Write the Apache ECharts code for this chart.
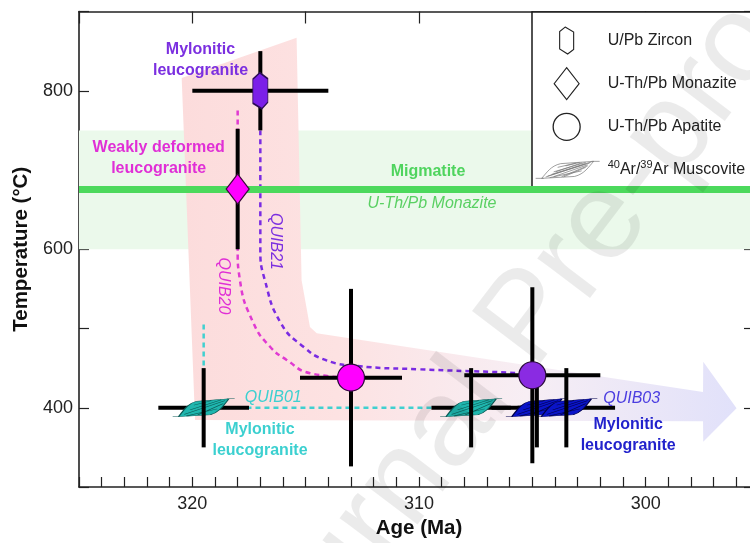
<!DOCTYPE html>
<html>
<head>
<meta charset="utf-8">
<script src="https://cdn.jsdelivr.net/npm/echarts@6/dist/echarts.min.js"></script>
<style>
  html, body { margin: 0; padding: 0; background: #fff; }
  #chart { width: 750px; height: 543px; }
</style>
</head>
<body>
<div id="chart"></div>
<script>
// ---- Geochronology / thermometry data: [age (Ma), age error, temperature (°C), temperature error]
const zirconQUIB21 = [[317.0, 3.0, 800, 50]];
const monaziteQUIB20 = [[318.0, 4.0, 676, 76]];
const apatiteSamples = ['QUIB20', 'QUIB21'];
const apatite = [[313.0, 2.25, 438, 112], [305.0, 3.0, 441, 111]];
const muscoviteSamples = ['QUIB01', 'QUIB01', 'QUIB03', 'QUIB03'];
const muscovite = [[319.5, 2.0, 400, 50], [307.7, 1.75, 400, 50], [304.8, 2.0, 400, 50], [303.5, 2.15, 400, 50]];

// Migmatite U-Th/Pb monazite temperature window and mean
const migmatiteRange = [600, 750];
const migmatiteTemp = 676;

// Cooling paths per sample: [age, temperature]
const pathQUIB21 = [[317.0, 750], [317.0, 600], [316.8, 561], [316.1, 507], [315.1, 477], [314.1, 460], [312.75, 452.7], [310.0, 448.5], [305.5, 443.5], [305.0, 441]];
const pathQUIB20 = [[318.0, 775], [318.0, 600], [317.9, 561], [317.3, 506.6], [316.57, 477], [315.84, 460.3], [314.8, 443.5], [313.0, 438]];
const pathQUIB01 = [[319.5, 505], [319.5, 400], [307.7, 400]];

// Cooling envelope (shaded arrow): [age, temperature]
const envelope = [
  [320.47, 816], [315.4, 867], [315.18, 561], [314.81, 502], [314.51, 494],
  [297.47, 420], [297.46, 458], [295.99, 399.3], [297.46, 357.2], [297.47, 383],
  [319.88, 384.7]
];

// Axes
const ageRange = [295, 325];
const tempRange = [300, 900];
const ageLabels = [320, 310, 300];
const tempLabels = [400, 600, 800];

const FONT = '"Liberation Sans", Arial, sans-serif';
const sampleColor = { QUIB21: '#8a2be2', QUIB20: '#ff00ff' };
const micaFill = { QUIB01: '#1fb6ae', QUIB03: '#0a14c8' };
const micaLine = { QUIB01: '#0c5a56', QUIB03: '#00004a' };

// Symbol outlines
const ZIRCON = 'path://M7,0L15,6L15,29.5L9,36L0,30.5L0,6.5Z';
// muscovite flake: tails, body and cleavage lines (64 x 18 frame)
const MUSCO_BODY = 'M0,17.5L8,17.5M6,17.5C11,12 15,5 25,2.8L58,0.5C53,6 49,13 39,15.6L6,17.5ZM56,0.5L64,0.5';
const MUSCO_LINES = 'M12,15.2L54,2.2M18,11L50,1.6M14,16.8L46,10M26,15.8L52,5M22,6.5L40,2.3';
const MUSCO_HATCH = 'M10,16.2L50,2.8M18,15.8L52,4M20,11L46,2M28,16L50,6.5M30,5L44,1.6M16,13.5L56,1';
function shiftPath(str, dx, dy) {
  return str.replace(/(-?\d+\.?\d*),(-?\d+\.?\d*)/g, (m, x, y) => (parseFloat(x) + dx) + ',' + (parseFloat(y) + dy));
}
const MUSCOVITE = 'path://' + MUSCO_BODY + MUSCO_LINES;
// legend icons drawn inside a 68 x 36 frame
const FRAME = 'M0,0M68,36';
const LEG_ZIRCON = 'path://' + FRAME + 'M30.5,4.5L39,9.5L39,27L33,31.5L25,26.5L25,9Z';
const LEG_DIAMOND = 'path://' + FRAME + 'M32,2L44.5,18L32,34L19.5,18Z';
const LEG_CIRCLE = 'path://' + FRAME + 'M45.5,18A13.5,13.5,0,1,1,18.5,18A13.5,13.5,0,1,1,45.5,18Z';
const LEG_MUSCO = 'path://' + FRAME + shiftPath(MUSCO_BODY + MUSCO_LINES + MUSCO_HATCH, 1, 9);

const allPoints = [...zirconQUIB21, ...monaziteQUIB20, ...apatite, ...muscovite];

function hBar(params, api) {
  const a = api.value(0), ea = api.value(1), t = api.value(2);
  const p1 = api.coord([a - ea, t]), p2 = api.coord([a + ea, t]);
  return { type: 'line', shape: { x1: p1[0], y1: p1[1], x2: p2[0], y2: p2[1] },
           style: { stroke: '#000', lineWidth: 4 } };
}
function vBar(params, api) {
  const a = api.value(0), t = api.value(2), et = api.value(3);
  const p1 = api.coord([a, t - et]), p2 = api.coord([a, t + et]);
  return { type: 'line', shape: { x1: p1[0], y1: p1[1], x2: p2[0], y2: p2[1] },
           style: { stroke: '#000', lineWidth: 4 } };
}

function note(x, y, text, color, opt) {
  opt = opt || {};
  return {
    type: 'text', x: x, y: y, rotation: opt.rotation || 0, z: 100, silent: true,
    style: {
      text: text, fill: color, fontFamily: FONT, fontSize: 16,
      fontWeight: opt.bold ? 'bold' : 'normal', fontStyle: opt.italic ? 'italic' : 'normal',
      align: 'center', verticalAlign: 'middle', lineHeight: 21
    }
  };
}

const chart = echarts.init(document.getElementById('chart'), null, { renderer: 'canvas' });
chart.setOption({
  animation: false,
  backgroundColor: '#fff',
  // plot frame runs a little past the right edge of the page
  grid: { left: 79, top: 11.5, width: 680, height: 475.5, containLabel: false, outerBoundsMode: 'none' },
  xAxis: [{
    type: 'value', min: ageRange[0], max: ageRange[1], interval: 1, inverse: true,
    name: 'Age (Ma)', nameLocation: 'middle', nameGap: 28,
    nameTextStyle: { fontFamily: FONT, fontSize: 20.5, fontWeight: 'bold', color: '#111' },
    axisLine: { lineStyle: { color: '#222', width: 1.6 } },
    axisTick: { inside: true, length: 10, lineStyle: { color: '#222', width: 1.2 } },
    axisLabel: { interval: 0, margin: 8, fontFamily: FONT, fontSize: 18, color: '#222',
                 formatter: v => ageLabels.includes(v) ? String(v) : '' },
    splitLine: { show: false }
  }, {
    type: 'value', position: 'top', min: ageRange[0], max: ageRange[1], interval: 5, inverse: true,
    axisLine: { lineStyle: { color: '#222', width: 1.6 } },
    axisTick: { inside: true, length: 12, lineStyle: { color: '#222', width: 1.2 } },
    axisLabel: { show: false }, splitLine: { show: false }
  }],
  yAxis: [{
    type: 'value', min: tempRange[0], max: tempRange[1], interval: 100,
    name: 'Temperature (°C)', nameLocation: 'middle', nameGap: 46,
    nameTextStyle: { fontFamily: FONT, fontSize: 20.5, fontWeight: 'bold', color: '#111' },
    axisLine: { show: true, lineStyle: { color: '#222', width: 1.6 } },
    axisTick: { show: true, inside: true, length: 10, lineStyle: { color: '#222', width: 1.2 } },
    axisLabel: { margin: 6, fontFamily: FONT, fontSize: 18, color: '#222',
                 formatter: v => tempLabels.includes(v) ? String(v) : '' },
    splitLine: { show: false }
  }, {
    type: 'value', position: 'right', min: tempRange[0], max: tempRange[1], interval: 100,
    axisLine: { show: true, lineStyle: { color: '#222', width: 1.6 } },
    axisTick: { show: true, inside: true, length: 15, lineStyle: { color: '#222', width: 1.2 } },
    axisLabel: { show: false }, splitLine: { show: false }
  }],
  legend: {
    orient: 'vertical', left: 532, top: 12, padding: [10, 12, 2, 2],
    itemGap: 6, itemWidth: 68, itemHeight: 36, selectedMode: false,
    backgroundColor: '#fff', borderColor: '#1a1a1a', borderWidth: 1.5,
    textStyle: {
      fontFamily: FONT, fontSize: 16, color: '#222',
      rich: {
        sup: { fontFamily: FONT, fontSize: 11, color: '#222', verticalAlign: 'top', lineHeight: 20 },
        t: { fontFamily: FONT, fontSize: 16, color: '#222', lineHeight: 20 }
      }
    },
    formatter: name => name === '40Ar/39Ar Muscovite' ? '{sup|40}{t|Ar/}{sup|39}{t|Ar Muscovite}' : name,
    data: [
      { name: 'U/Pb Zircon', icon: LEG_ZIRCON, itemStyle: { color: '#fff', borderColor: '#222', borderWidth: 1.1 } },
      { name: 'U-Th/Pb Monazite', icon: LEG_DIAMOND, itemStyle: { color: '#fff', borderColor: '#222', borderWidth: 1.1 } },
      { name: 'U-Th/Pb Apatite', icon: LEG_CIRCLE, itemStyle: { color: '#fff', borderColor: '#222', borderWidth: 1.3 } },
      { name: '40Ar/39Ar Muscovite', icon: LEG_MUSCO, itemStyle: { color: '#fff', borderColor: '#777', borderWidth: 0.7 } }
    ]
  },
  graphic: [
    note(200.5, 60.5, 'Mylonitic\nleucogranite', '#7b2fe0', { bold: true }),
    note(158.7, 158.5, 'Weakly deformed\nleucogranite', '#e02fd6', { bold: true }),
    note(275.5, 241.5, 'QUIB21', '#7b2fe0', { italic: true, rotation: -Math.PI / 2 }),
    note(223, 286, 'QUIB20', '#e02fd6', { italic: true, rotation: -Math.PI / 2 }),
    note(273.3, 397.7, 'QUIB01', '#3cd0d0', { italic: true }),
    note(260, 439.6, 'Mylonitic\nleucogranite', '#3cd0d0', { bold: true }),
    note(631.7, 398.3, 'QUIB03', '#4b3de0', { italic: true }),
    note(628.2, 435, 'Mylonitic\nleucogranite', '#2222cc', { bold: true }),
    note(428, 172, 'Migmatite', '#4fd45e', { bold: true }),
    note(432, 203.5, 'U-Th/Pb Monazite', '#5ad063', { italic: true }),
    {
      type: 'text', x: 530, y: 320, rotation: 0.92, z: 200, silent: true,
      style: { text: 'Journal Pre-proof', fill: 'rgba(0,0,0,0.08)', fontFamily: FONT,
               fontSize: 125, align: 'center', verticalAlign: 'middle' }
    }
  ],
  series: [
    {
      name: 'Migmatite', type: 'line', data: [], z: 1, silent: true,
      markArea: { silent: true, itemStyle: { color: '#ebf9eb' },
                  data: [[{ yAxis: migmatiteRange[0] }, { yAxis: migmatiteRange[1] }]] },
      markLine: { silent: true, symbol: ['none', 'none'], label: { show: false },
                  lineStyle: { color: '#4cd95c', width: 7, type: 'solid' },
                  emphasis: { disabled: true },
                  data: [{ yAxis: migmatiteTemp }] }
    },
    {
      name: 'Cooling envelope', type: 'custom', z: 2, silent: true,
      data: [[310, 600]], encode: { x: 0, y: 1 },
      renderItem: (params, api) => {
        const pts = envelope.map(p => api.coord(p));
        return {
          type: 'polygon', shape: { points: pts },
          style: {
            blend: 'multiply',
            fill: new echarts.graphic.LinearGradient(0, 0, 1, 0, [
              { offset: 0, color: '#fcdcdc' },
              { offset: 0.28, color: '#fde2e2' },
              { offset: 0.62, color: '#f7eef4' },
              { offset: 1, color: '#e1e1fa' }
            ])
          }
        };
      }
    },
    { name: 'QUIB21 path', type: 'line', data: pathQUIB21, smooth: 0.5, symbol: 'none', z: 3, silent: true,
      lineStyle: { color: '#7a2be2', width: 2.5, type: [5, 4] } },
    { name: 'QUIB20 path', type: 'line', data: pathQUIB20, smooth: 0.5, symbol: 'none', z: 3, silent: true,
      lineStyle: { color: '#e03ad2', width: 2.5, type: [5, 4] } },
    { name: 'QUIB01 path', type: 'line', data: pathQUIB01, symbol: 'none', z: 3, silent: true,
      lineStyle: { color: '#40d0d0', width: 2.5, type: [5, 4] } },
    { name: 'Age error', type: 'custom', z: 4, silent: true, data: allPoints,
      encode: { x: 0, y: 2 }, renderItem: hBar },
    {
      name: '40Ar/39Ar Muscovite', type: 'scatter', z: 5, silent: true,
      symbol: MUSCOVITE, symbolSize: [62, 18],
      data: muscovite.map((r, i) => ({
        value: [r[0], r[2]],
        itemStyle: { color: micaFill[muscoviteSamples[i]], borderColor: micaLine[muscoviteSamples[i]] }
      })),
      itemStyle: { opacity: 1, borderWidth: 0.8 }
    },
    { name: 'Temperature error', type: 'custom', z: 6, silent: true, data: allPoints,
      encode: { x: 0, y: 2 }, renderItem: vBar },
    {
      name: 'U/Pb Zircon', type: 'scatter', z: 7, silent: true,
      symbol: ZIRCON, symbolSize: [15, 36],
      data: zirconQUIB21.map(r => [r[0], r[2]]),
      itemStyle: { color: '#7b1fe8', borderColor: '#2b0b55', borderWidth: 1.2, opacity: 1 }
    },
    {
      name: 'U-Th/Pb Monazite', type: 'scatter', z: 7, silent: true,
      symbol: 'diamond', symbolSize: [23, 30],
      data: monaziteQUIB20.map(r => [r[0], r[2]]),
      itemStyle: { color: '#ff00ff', borderColor: '#3a0a3a', borderWidth: 1.2, opacity: 1 }
    },
    {
      name: 'U-Th/Pb Apatite', type: 'scatter', z: 7, silent: true,
      symbol: 'circle', symbolSize: 27,
      data: apatite.map((r, i) => ({ value: [r[0], r[2]], itemStyle: { color: sampleColor[apatiteSamples[i]] } })),
      itemStyle: { borderColor: '#2a0a3a', borderWidth: 1.2, opacity: 1 }
    }
  ]
});
</script>
</body>
</html>
